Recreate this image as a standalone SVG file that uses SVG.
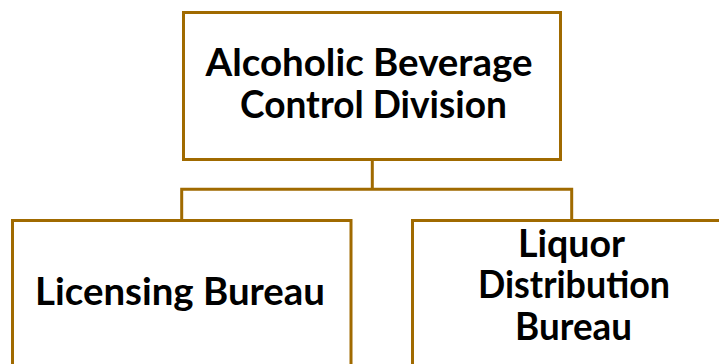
<svg xmlns="http://www.w3.org/2000/svg" width="719" height="364" viewBox="0 0 719 364">
<style>
.box{fill:#ffffff;stroke:#A06A00;stroke-width:3}
.conn{fill:none;stroke:#A06A00;stroke-width:3}
.t{font-family:Lato,"Open Sans","Liberation Sans",sans-serif;font-weight:bold;font-size:38px;fill:#000000;text-anchor:middle}
</style>
<rect width="719" height="364" fill="#ffffff"/>
<g id="connectors">
<path class="conn" d="M372.3,159 V189.3 M181.7,220.5 V189.3 H571.7 V220.5"/>
</g>
<g id="node-abc">
<rect class="box" x="183.5" y="12.5" width="377" height="147"/>
<text class="t" x="369" y="76" textLength="327" lengthAdjust="spacingAndGlyphs">Alcoholic Beverage</text>
<text class="t" x="373.5" y="118" textLength="267" lengthAdjust="spacingAndGlyphs">Control Division</text>
</g>
<g id="node-licensing">
<rect class="box" x="12.5" y="220.5" width="338.5" height="200"/>
<text class="t" x="180" y="305" textLength="290" lengthAdjust="spacingAndGlyphs">Licensing Bureau</text>
</g>
<g id="node-liquor">
<rect class="box" x="412.5" y="220.5" width="400" height="200"/>
<text class="t" x="571.5" y="257" textLength="107" lengthAdjust="spacingAndGlyphs">Liquor</text>
<text class="t" x="574" y="298" textLength="192" lengthAdjust="spacingAndGlyphs">Distribution</text>
<text class="t" x="573.5" y="340" textLength="117" lengthAdjust="spacingAndGlyphs">Bureau</text>
</g>
</svg>
